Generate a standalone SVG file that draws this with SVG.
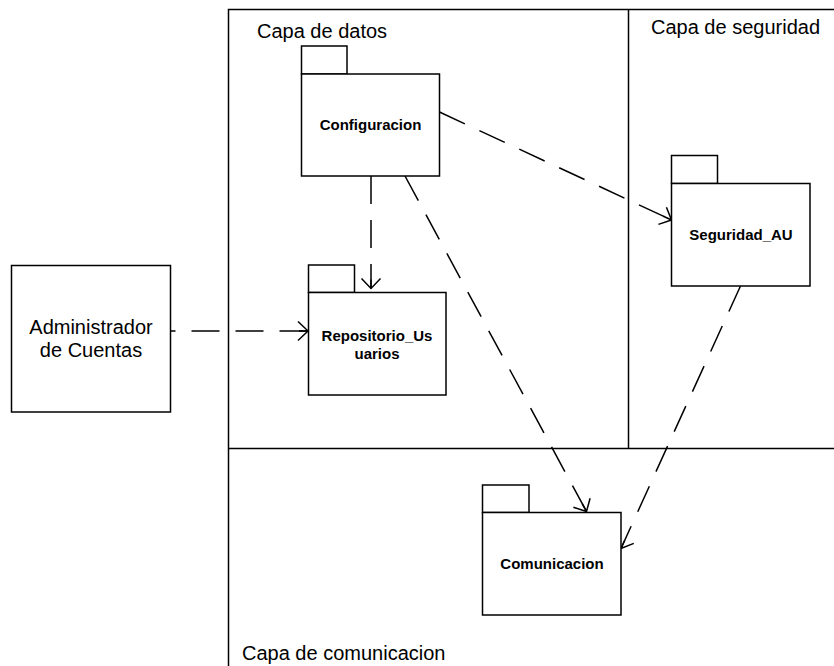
<svg xmlns="http://www.w3.org/2000/svg" width="834" height="666" viewBox="0 0 834 666">
  <style>
    .line { fill: none; stroke: #000; stroke-width: 1.5; }
    .box { fill: #fff; stroke: #000; stroke-width: 1.5; }
    .layer { font-family: "Liberation Sans", Arial, sans-serif; font-size: 20px; fill: #000; }
    .pkg { font-family: "Liberation Sans", Arial, sans-serif; font-size: 15px; font-weight: bold; fill: #000; text-anchor: middle; }
    .actor { font-family: "Liberation Sans", Arial, sans-serif; font-size: 20px; fill: #000; text-anchor: middle; }
    .dep { fill: none; stroke: #000; stroke-width: 1.5; stroke-dasharray: 28 16; marker-end: url(#open); }
  </style>
  <defs>
    <!-- open arrowhead with a short stem so the line always meets the tip -->
    <marker id="open" markerUnits="userSpaceOnUse" orient="auto" refX="0" refY="0"
            markerWidth="30" markerHeight="30" overflow="visible">
      <path d="M -10 -9.5 L 0 0 L -10 9.5 M -9 0 L 0 0" fill="none" stroke="#000" stroke-width="1.5" stroke-dasharray="none"/>
    </marker>
  </defs>

  <rect width="834" height="666" fill="#fff"/>

  <!-- layer frames -->
  <g id="layers">
    <path class="line" d="M 228.5 666 L 228.5 9.5 L 834 9.5"/>
    <path class="line" d="M 628.5 9.5 L 628.5 448.5"/>
    <path class="line" d="M 228.5 448.5 L 834 448.5"/>
    <text class="layer" x="257" y="38">Capa de datos</text>
    <text class="layer" x="651" y="34">Capa de seguridad</text>
    <text class="layer" x="242" y="660">Capa de comunicacion</text>
  </g>

  <!-- dependencies -->
  <g id="connectors">
    <path class="dep" d="M 171 331 L 308 331" style="stroke-dashoffset: 23.5"/>
    <path class="dep" d="M 371 176 L 371 288.5"/>
    <path class="dep" d="M 439.5 112 L 671.5 220"/>
    <path class="dep" d="M 405 176 L 586.5 511.5"/>
    <path class="dep" d="M 740.5 286 L 621 548.5"/>
  </g>

  <g id="administrador">
    <rect class="box" x="11.5" y="265.5" width="159" height="146.5"/>
    <text class="actor" x="91" y="334">Administrador</text>
    <text class="actor" x="91" y="357">de Cuentas</text>
  </g>

  <g id="configuracion">
    <rect class="box" x="301.5" y="46" width="45.5" height="28"/>
    <rect class="box" x="301.5" y="74" width="138" height="102"/>
    <text class="pkg" x="370.5" y="130">Configuracion</text>
  </g>

  <g id="repositorio_usuarios">
    <rect class="box" x="308.5" y="265" width="46" height="27.5"/>
    <rect class="box" x="308.5" y="292.5" width="137.5" height="102.5"/>
    <text class="pkg" x="377" y="340.5">Repositorio_Us</text>
    <text class="pkg" x="377" y="358.5">uarios</text>
  </g>

  <g id="seguridad_au">
    <rect class="box" x="671.5" y="155.5" width="46" height="28"/>
    <rect class="box" x="671.5" y="183.5" width="138.5" height="102.5"/>
    <text class="pkg" x="741" y="240">Seguridad_AU</text>
  </g>

  <g id="comunicacion">
    <rect class="box" x="482.5" y="485" width="46.5" height="27.5"/>
    <rect class="box" x="482.5" y="512.5" width="138.5" height="102.5"/>
    <text class="pkg" x="552" y="568.5">Comunicacion</text>
  </g>
</svg>
